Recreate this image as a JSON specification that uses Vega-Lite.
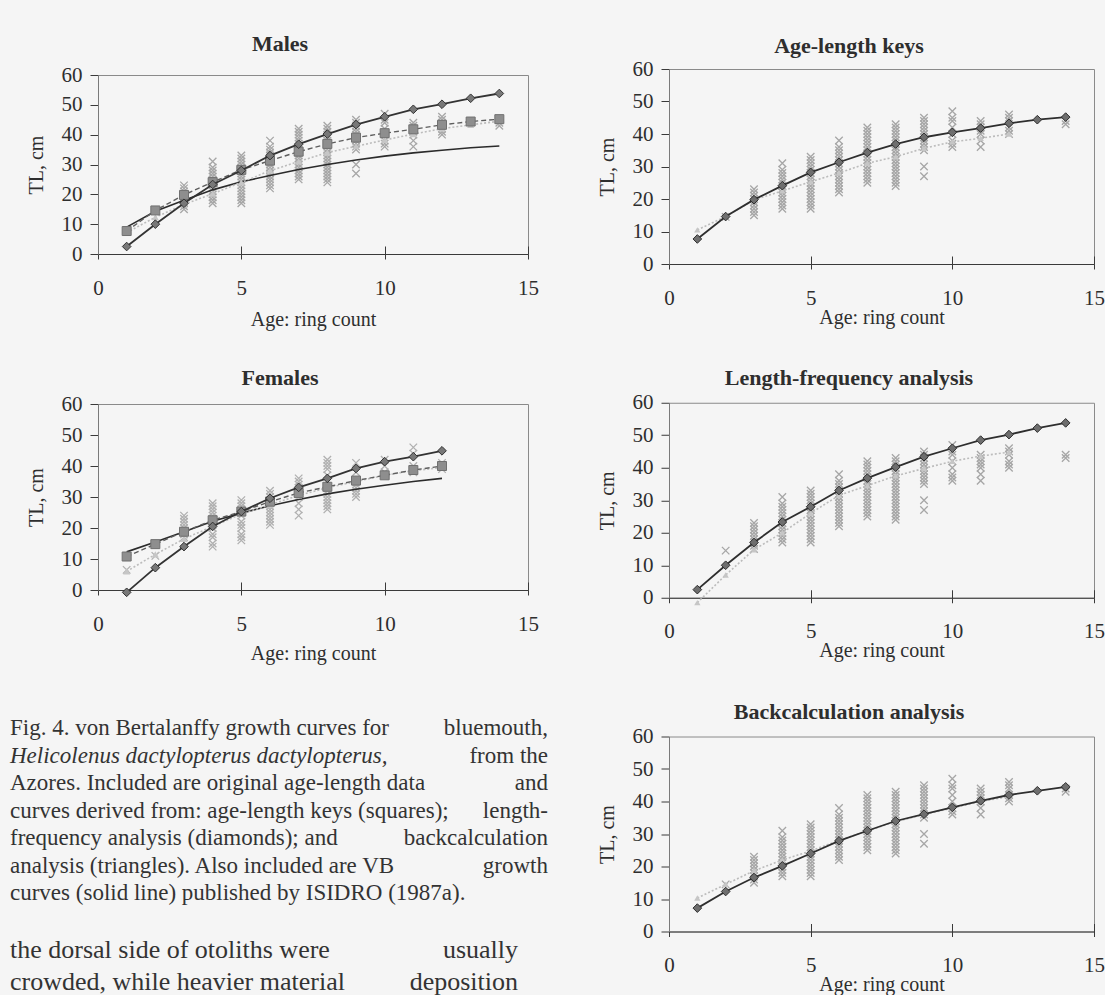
{
"$schema": "https://vega.github.io/schema/vega-lite/v6.json",
"padding": {"left": 10, "top": 32, "right": 0, "bottom": 0},
"background": "#f5f5f5",
"spacing": 48,
"datasets": {
"obsM": [
{"age":2,"tl":14.5},
{"age":3,"tl":15},{"age":3,"tl":16},{"age":3,"tl":17},{"age":3,"tl":18},{"age":3,"tl":19},{"age":3,"tl":20},{"age":3,"tl":21},{"age":3,"tl":22},{"age":3,"tl":23},
{"age":4,"tl":17},{"age":4,"tl":18},{"age":4,"tl":19},{"age":4,"tl":20},{"age":4,"tl":21},{"age":4,"tl":22},{"age":4,"tl":23},{"age":4,"tl":24},{"age":4,"tl":25},{"age":4,"tl":26},{"age":4,"tl":27},{"age":4,"tl":28},{"age":4,"tl":29},{"age":4,"tl":31},
{"age":5,"tl":17},{"age":5,"tl":18},{"age":5,"tl":19},{"age":5,"tl":20},{"age":5,"tl":21},{"age":5,"tl":22},{"age":5,"tl":23},{"age":5,"tl":24},{"age":5,"tl":25},{"age":5,"tl":26},{"age":5,"tl":27},{"age":5,"tl":28},{"age":5,"tl":29},{"age":5,"tl":30},{"age":5,"tl":31},{"age":5,"tl":32},{"age":5,"tl":33},
{"age":6,"tl":22},{"age":6,"tl":23},{"age":6,"tl":24},{"age":6,"tl":25},{"age":6,"tl":26},{"age":6,"tl":27},{"age":6,"tl":28},{"age":6,"tl":29},{"age":6,"tl":30},{"age":6,"tl":31},{"age":6,"tl":32},{"age":6,"tl":33},{"age":6,"tl":34},{"age":6,"tl":35},{"age":6,"tl":36},{"age":6,"tl":38},
{"age":7,"tl":25},{"age":7,"tl":26},{"age":7,"tl":27},{"age":7,"tl":28},{"age":7,"tl":29},{"age":7,"tl":30},{"age":7,"tl":31},{"age":7,"tl":32},{"age":7,"tl":33},{"age":7,"tl":34},{"age":7,"tl":35},{"age":7,"tl":36},{"age":7,"tl":37},{"age":7,"tl":38},{"age":7,"tl":39},{"age":7,"tl":40},{"age":7,"tl":41},{"age":7,"tl":42},
{"age":8,"tl":24},{"age":8,"tl":25},{"age":8,"tl":26},{"age":8,"tl":27},{"age":8,"tl":28},{"age":8,"tl":29},{"age":8,"tl":30},{"age":8,"tl":31},{"age":8,"tl":32},{"age":8,"tl":33},{"age":8,"tl":34},{"age":8,"tl":35},{"age":8,"tl":36},{"age":8,"tl":37},{"age":8,"tl":38},{"age":8,"tl":39},{"age":8,"tl":40},{"age":8,"tl":41},{"age":8,"tl":42},{"age":8,"tl":43},
{"age":9,"tl":27},{"age":9,"tl":30},{"age":9,"tl":35},{"age":9,"tl":36},{"age":9,"tl":37},{"age":9,"tl":38},{"age":9,"tl":39},{"age":9,"tl":40},{"age":9,"tl":41},{"age":9,"tl":42},{"age":9,"tl":43},{"age":9,"tl":44},{"age":9,"tl":45},
{"age":10,"tl":36},{"age":10,"tl":37},{"age":10,"tl":38},{"age":10,"tl":40},{"age":10,"tl":42},{"age":10,"tl":44},{"age":10,"tl":45},{"age":10,"tl":47},
{"age":11,"tl":36},{"age":11,"tl":38},{"age":11,"tl":40},{"age":11,"tl":41},{"age":11,"tl":42},{"age":11,"tl":43},{"age":11,"tl":44},
{"age":12,"tl":40},{"age":12,"tl":41},{"age":12,"tl":42},{"age":12,"tl":44},{"age":12,"tl":45},{"age":12,"tl":46},
{"age":14,"tl":43},{"age":14,"tl":44}
],
"obsF": [
{"age":1,"tl":6.5},
{"age":2,"tl":11},
{"age":3,"tl":17},{"age":3,"tl":18},{"age":3,"tl":19},{"age":3,"tl":20},{"age":3,"tl":21},{"age":3,"tl":22},{"age":3,"tl":23},{"age":3,"tl":24},
{"age":4,"tl":14},{"age":4,"tl":15},{"age":4,"tl":17},{"age":4,"tl":18},{"age":4,"tl":20},{"age":4,"tl":21},{"age":4,"tl":22},{"age":4,"tl":23},{"age":4,"tl":24},{"age":4,"tl":25},{"age":4,"tl":26},{"age":4,"tl":27},{"age":4,"tl":28},
{"age":5,"tl":16},{"age":5,"tl":17},{"age":5,"tl":18},{"age":5,"tl":20},{"age":5,"tl":21},{"age":5,"tl":22},{"age":5,"tl":24},{"age":5,"tl":25},{"age":5,"tl":26},{"age":5,"tl":27},{"age":5,"tl":28},{"age":5,"tl":29},
{"age":6,"tl":21},{"age":6,"tl":22},{"age":6,"tl":23},{"age":6,"tl":24},{"age":6,"tl":25},{"age":6,"tl":26},{"age":6,"tl":27},{"age":6,"tl":28},{"age":6,"tl":29},{"age":6,"tl":30},{"age":6,"tl":31},{"age":6,"tl":32},
{"age":7,"tl":24},{"age":7,"tl":26},{"age":7,"tl":28},{"age":7,"tl":30},{"age":7,"tl":31},{"age":7,"tl":32},{"age":7,"tl":33},{"age":7,"tl":34},{"age":7,"tl":35},{"age":7,"tl":36},
{"age":8,"tl":26},{"age":8,"tl":27},{"age":8,"tl":28},{"age":8,"tl":29},{"age":8,"tl":30},{"age":8,"tl":31},{"age":8,"tl":32},{"age":8,"tl":33},{"age":8,"tl":35},{"age":8,"tl":37},{"age":8,"tl":39},{"age":8,"tl":40},{"age":8,"tl":41},{"age":8,"tl":42},
{"age":9,"tl":30},{"age":9,"tl":31},{"age":9,"tl":32},{"age":9,"tl":33},{"age":9,"tl":34},{"age":9,"tl":35},{"age":9,"tl":38},{"age":9,"tl":41},
{"age":10,"tl":37},{"age":10,"tl":38},{"age":10,"tl":40},{"age":10,"tl":42},
{"age":11,"tl":38},{"age":11,"tl":40},{"age":11,"tl":44},{"age":11,"tl":46},
{"age":12,"tl":39},{"age":12,"tl":41}
],
"curves": [
{"p":"M","s":"LF","age":1,"tl":2.5},{"p":"M","s":"LF","age":2,"tl":10},{"p":"M","s":"LF","age":3,"tl":17},{"p":"M","s":"LF","age":4,"tl":23.3},{"p":"M","s":"LF","age":5,"tl":28},{"p":"M","s":"LF","age":6,"tl":33},{"p":"M","s":"LF","age":7,"tl":36.8},{"p":"M","s":"LF","age":8,"tl":40.2},{"p":"M","s":"LF","age":9,"tl":43.4},{"p":"M","s":"LF","age":10,"tl":46},{"p":"M","s":"LF","age":11,"tl":48.5},{"p":"M","s":"LF","age":12,"tl":50.2},{"p":"M","s":"LF","age":13,"tl":52.2},{"p":"M","s":"LF","age":14,"tl":53.8},
{"p":"M","s":"ALK","age":1,"tl":7.7},{"p":"M","s":"ALK","age":2,"tl":14.6},{"p":"M","s":"ALK","age":3,"tl":19.8},{"p":"M","s":"ALK","age":4,"tl":24.1},{"p":"M","s":"ALK","age":5,"tl":28.2},{"p":"M","s":"ALK","age":6,"tl":31.3},{"p":"M","s":"ALK","age":7,"tl":34.3},{"p":"M","s":"ALK","age":8,"tl":36.9},{"p":"M","s":"ALK","age":9,"tl":39},{"p":"M","s":"ALK","age":10,"tl":40.5},{"p":"M","s":"ALK","age":11,"tl":41.8},{"p":"M","s":"ALK","age":12,"tl":43.3},{"p":"M","s":"ALK","age":13,"tl":44.4},{"p":"M","s":"ALK","age":14,"tl":45.2},
{"p":"M","s":"BC","age":1,"tl":7.2},{"p":"M","s":"BC","age":2,"tl":12.3},{"p":"M","s":"BC","age":3,"tl":16.6},{"p":"M","s":"BC","age":4,"tl":20.2},{"p":"M","s":"BC","age":5,"tl":24},{"p":"M","s":"BC","age":6,"tl":27.9},{"p":"M","s":"BC","age":7,"tl":31},{"p":"M","s":"BC","age":8,"tl":34},{"p":"M","s":"BC","age":9,"tl":36.1},{"p":"M","s":"BC","age":10,"tl":38.2},{"p":"M","s":"BC","age":11,"tl":40.2},{"p":"M","s":"BC","age":12,"tl":42},{"p":"M","s":"BC","age":13,"tl":43.3},{"p":"M","s":"BC","age":14,"tl":44.5},
{"p":"M","s":"ISI","age":1,"tl":9},{"p":"M","s":"ISI","age":2,"tl":14.3},{"p":"M","s":"ISI","age":3,"tl":18},{"p":"M","s":"ISI","age":4,"tl":21.5},{"p":"M","s":"ISI","age":5,"tl":24.2},{"p":"M","s":"ISI","age":6,"tl":26.3},{"p":"M","s":"ISI","age":7,"tl":28.3},{"p":"M","s":"ISI","age":8,"tl":30},{"p":"M","s":"ISI","age":9,"tl":31.5},{"p":"M","s":"ISI","age":10,"tl":32.8},{"p":"M","s":"ISI","age":11,"tl":33.9},{"p":"M","s":"ISI","age":12,"tl":34.8},{"p":"M","s":"ISI","age":13,"tl":35.6},{"p":"M","s":"ISI","age":14,"tl":36.2},
{"p":"F","s":"LF","age":1,"tl":-0.75},{"p":"F","s":"LF","age":2,"tl":7.2},{"p":"F","s":"LF","age":3,"tl":14},{"p":"F","s":"LF","age":4,"tl":20.5},{"p":"F","s":"LF","age":5,"tl":25.3},{"p":"F","s":"LF","age":6,"tl":29.6},{"p":"F","s":"LF","age":7,"tl":33.1},{"p":"F","s":"LF","age":8,"tl":36},{"p":"F","s":"LF","age":9,"tl":39.2},{"p":"F","s":"LF","age":10,"tl":41.4},{"p":"F","s":"LF","age":11,"tl":43},{"p":"F","s":"LF","age":12,"tl":44.9},
{"p":"F","s":"ALK","age":1,"tl":10.8},{"p":"F","s":"ALK","age":2,"tl":14.8},{"p":"F","s":"ALK","age":3,"tl":18.8},{"p":"F","s":"ALK","age":4,"tl":22.5},{"p":"F","s":"ALK","age":5,"tl":25.3},{"p":"F","s":"ALK","age":6,"tl":28.5},{"p":"F","s":"ALK","age":7,"tl":31.3},{"p":"F","s":"ALK","age":8,"tl":33.3},{"p":"F","s":"ALK","age":9,"tl":35.3},{"p":"F","s":"ALK","age":10,"tl":37},{"p":"F","s":"ALK","age":11,"tl":38.7},{"p":"F","s":"ALK","age":12,"tl":40},
{"p":"F","s":"BC","age":1,"tl":6},{"p":"F","s":"BC","age":2,"tl":11.5},{"p":"F","s":"BC","age":3,"tl":16.5},{"p":"F","s":"BC","age":4,"tl":20.5},{"p":"F","s":"BC","age":5,"tl":24.5},{"p":"F","s":"BC","age":6,"tl":27.5},{"p":"F","s":"BC","age":7,"tl":30.5},{"p":"F","s":"BC","age":8,"tl":33},{"p":"F","s":"BC","age":9,"tl":35},{"p":"F","s":"BC","age":10,"tl":37},{"p":"F","s":"BC","age":11,"tl":38.5},{"p":"F","s":"BC","age":12,"tl":39.5},
{"p":"F","s":"ISI","age":1,"tl":12.3},{"p":"F","s":"ISI","age":2,"tl":15.5},{"p":"F","s":"ISI","age":3,"tl":18.8},{"p":"F","s":"ISI","age":4,"tl":22.2},{"p":"F","s":"ISI","age":5,"tl":24.8},{"p":"F","s":"ISI","age":6,"tl":27.2},{"p":"F","s":"ISI","age":7,"tl":29.2},{"p":"F","s":"ISI","age":8,"tl":31},{"p":"F","s":"ISI","age":9,"tl":32.5},{"p":"F","s":"ISI","age":10,"tl":33.8},{"p":"F","s":"ISI","age":11,"tl":35},{"p":"F","s":"ISI","age":12,"tl":36},
{"p":"AL","s":"mean","age":1,"tl":10.5},{"p":"AL","s":"mean","age":2,"tl":14.6},{"p":"AL","s":"mean","age":3,"tl":19.7},{"p":"AL","s":"mean","age":4,"tl":22.5},{"p":"AL","s":"mean","age":5,"tl":25.3},{"p":"AL","s":"mean","age":6,"tl":28},{"p":"AL","s":"mean","age":7,"tl":31},{"p":"AL","s":"mean","age":8,"tl":33},{"p":"AL","s":"mean","age":9,"tl":35.6},{"p":"AL","s":"mean","age":10,"tl":37.6},{"p":"AL","s":"mean","age":11,"tl":38.7},{"p":"AL","s":"mean","age":12,"tl":40},
{"p":"LF","s":"mean","age":1,"tl":-1.5},{"p":"LF","s":"mean","age":2,"tl":7},{"p":"LF","s":"mean","age":3,"tl":14.8},{"p":"LF","s":"mean","age":4,"tl":20},{"p":"LF","s":"mean","age":5,"tl":26},{"p":"LF","s":"mean","age":6,"tl":31.5},{"p":"LF","s":"mean","age":7,"tl":34.5},{"p":"LF","s":"mean","age":8,"tl":37.5},{"p":"LF","s":"mean","age":9,"tl":39.8},{"p":"LF","s":"mean","age":10,"tl":42},{"p":"LF","s":"mean","age":11,"tl":43.6},{"p":"LF","s":"mean","age":12,"tl":44.8},
{"p":"BC","s":"mean","age":1,"tl":10.3},{"p":"BC","s":"mean","age":2,"tl":14.5},{"p":"BC","s":"mean","age":3,"tl":18.7},{"p":"BC","s":"mean","age":4,"tl":22},{"p":"BC","s":"mean","age":5,"tl":24.8},{"p":"BC","s":"mean","age":6,"tl":28},{"p":"BC","s":"mean","age":7,"tl":31},{"p":"BC","s":"mean","age":8,"tl":33.8},{"p":"BC","s":"mean","age":9,"tl":36},{"p":"BC","s":"mean","age":10,"tl":38},{"p":"BC","s":"mean","age":11,"tl":40},{"p":"BC","s":"mean","age":12,"tl":41.5}
],
"caption": [
{"line":0,"k":"L","t":"Fig. 4. von Bertalanffy growth curves for"},
{"line":0,"k":"R","t":"bluemouth,"},
{"line":1,"k":"I","t":"Helicolenus dactylopterus dactylopterus,"},
{"line":1,"k":"R","t":"from the"},
{"line":2,"k":"L","t":"Azores. Included are original age-length data"},
{"line":2,"k":"R","t":"and"},
{"line":3,"k":"L","t":"curves derived from: age-length keys (squares);"},
{"line":3,"k":"R","t":"length-"},
{"line":4,"k":"L","t":"frequency analysis (diamonds); and"},
{"line":4,"k":"R","t":"backcalculation"},
{"line":5,"k":"L","t":"analysis (triangles). Also included are VB"},
{"line":5,"k":"R","t":"growth"},
{"line":6,"k":"L","t":"curves (solid line) published by ISIDRO (1987a)."}
],
"body": [
{"line":0,"k":"L","t":"the dorsal side of otoliths were"},
{"line":0,"k":"R","t":"usually"},
{"line":1,"k":"L","t":"crowded, while heavier material"},
{"line":1,"k":"R","t":"deposition"}
]
},
"hconcat": [
{"spacing": -38, "vconcat": [
  {"width": 430, "height": 1, "view": {"stroke": null}, "data": {"values": []}, "mark": "point"},
  {"spacing": 36, "vconcat": [
    {
      "width": 430, "height": 179,
      "title": {"text": "Males", "dx": -33, "offset": 8},
      "encoding": {
        "x": {"field": "age", "type": "quantitative", "scale": {"domain": [0, 15], "nice": false, "zero": false},
              "axis": {"values": [0, 5, 10, 15], "title": "Age: ring count", "titleY": 65, "gridDash": [0, 171, 8, 1000]}},
        "y": {"field": "tl", "type": "quantitative", "scale": {"domain": [0, 60], "nice": false},
              "axis": {"values": [0, 10, 20, 30, 40, 50, 60], "title": "TL, cm"}}
      },
      "layer": [
        {"data": {"name": "obsM"}, "mark": {"type": "point", "shape": "M-1,-1L1,1M-1,1L1,-1", "size": 56, "color": "#a6a6a6", "strokeWidth": 1.3, "opacity": 1}},
        {"data": {"name": "curves"}, "transform": [{"filter": "datum.p == 'M' && datum.s == 'ISI'"}], "mark": {"type": "line", "color": "#2b2b2b", "strokeWidth": 1.6}},
        {"data": {"name": "curves"}, "transform": [{"filter": "datum.p == 'M' && datum.s == 'BC'"}], "mark": {"type": "line", "color": "#bcbcbc", "strokeWidth": 1.6, "strokeDash": [2, 2], "point": {"shape": "triangle-up", "filled": true, "fill": "#c6c6c6", "size": 50, "opacity": 1}}},
        {"data": {"name": "curves"}, "transform": [{"filter": "datum.p == 'M' && datum.s == 'ALK'"}], "mark": {"type": "line", "color": "#5e5e5e", "strokeWidth": 1.4, "strokeDash": [5, 3], "point": {"shape": "square", "filled": true, "fill": "#8e8e8e", "stroke": "#707070", "strokeWidth": 1, "size": 81, "opacity": 1}}},
        {"data": {"name": "curves"}, "transform": [{"filter": "datum.p == 'M' && datum.s == 'LF'"}], "mark": {"type": "line", "color": "#333333", "strokeWidth": 1.8, "point": {"shape": "diamond", "filled": true, "fill": "#787878", "stroke": "#333333", "strokeWidth": 1, "size": 75, "opacity": 1}}}
      ]
    },
    {
      "width": 430, "height": 186,
      "title": {"text": "Females", "dx": -33, "offset": 3},
      "encoding": {
        "x": {"field": "age", "type": "quantitative", "scale": {"domain": [0, 15], "nice": false, "zero": false},
              "axis": {"values": [0, 5, 10, 15], "title": "Age: ring count", "titleY": 63, "gridDash": [0, 178, 8, 1000]}},
        "y": {"field": "tl", "type": "quantitative", "scale": {"domain": [0, 60], "nice": false},
              "axis": {"values": [0, 10, 20, 30, 40, 50, 60], "title": "TL, cm"}}
      },
      "layer": [
        {"data": {"name": "obsF"}, "mark": {"type": "point", "shape": "M-1,-1L1,1M-1,1L1,-1", "size": 56, "color": "#b0b0b0", "strokeWidth": 1.3, "opacity": 1}},
        {"data": {"name": "curves"}, "transform": [{"filter": "datum.p == 'F' && datum.s == 'ISI'"}], "mark": {"type": "line", "color": "#2b2b2b", "strokeWidth": 1.6}},
        {"data": {"name": "curves"}, "transform": [{"filter": "datum.p == 'F' && datum.s == 'BC'"}], "mark": {"type": "line", "color": "#bcbcbc", "strokeWidth": 1.6, "strokeDash": [2, 2], "point": {"shape": "triangle-up", "filled": true, "fill": "#c6c6c6", "size": 50, "opacity": 1}}},
        {"data": {"name": "curves"}, "transform": [{"filter": "datum.p == 'F' && datum.s == 'ALK'"}], "mark": {"type": "line", "color": "#5e5e5e", "strokeWidth": 1.4, "strokeDash": [5, 3], "point": {"shape": "square", "filled": true, "fill": "#8e8e8e", "stroke": "#707070", "strokeWidth": 1, "size": 81, "opacity": 1}}},
        {"data": {"name": "curves"}, "transform": [{"filter": "datum.p == 'F' && datum.s == 'LF'"}], "mark": {"type": "line", "color": "#333333", "strokeWidth": 1.8, "point": {"shape": "diamond", "filled": true, "fill": "#787878", "stroke": "#333333", "strokeWidth": 1, "size": 75, "opacity": 1}}}
      ]
    },
    {"spacing": 25, "vconcat": [
      {
        "width": 430, "height": 165, "view": {"stroke": null},
        "data": {"name": "caption"},
        "encoding": {"y": {"field": "line", "type": "quantitative", "scale": {"domain": [0, 6], "reverse": true}, "axis": null}},
        "layer": [
          {"transform": [{"filter": "datum.k == 'L'"}], "mark": {"type": "text", "align": "left", "baseline": "middle", "dx": -88, "dy": 28, "font": "Liberation Serif", "fontSize": 23, "color": "#333333"},
           "encoding": {"x": {"datum": 0, "type": "quantitative", "scale": {"domain": [0, 1]}, "axis": null}, "text": {"field": "t"}}},
          {"transform": [{"filter": "datum.k == 'I'"}], "mark": {"type": "text", "align": "left", "baseline": "middle", "dx": -88, "dy": 28, "font": "Liberation Serif", "fontSize": 23, "fontStyle": "italic", "color": "#333333"},
           "encoding": {"x": {"datum": 0, "type": "quantitative", "scale": {"domain": [0, 1]}, "axis": null}, "text": {"field": "t"}}},
          {"transform": [{"filter": "datum.k == 'R'"}], "mark": {"type": "text", "align": "right", "baseline": "middle", "dx": 20, "dy": 28, "font": "Liberation Serif", "fontSize": 23, "color": "#333333"},
           "encoding": {"x": {"datum": 1, "type": "quantitative", "scale": {"domain": [0, 1]}, "axis": null}, "text": {"field": "t"}}}
        ]
      },
      {
        "width": 430, "height": 32, "view": {"stroke": null},
        "data": {"name": "body"},
        "encoding": {"y": {"field": "line", "type": "quantitative", "scale": {"domain": [0, 1], "reverse": true}, "axis": null}},
        "layer": [
          {"transform": [{"filter": "datum.k == 'L'"}], "mark": {"type": "text", "align": "left", "baseline": "middle", "dx": -88, "dy": 20, "font": "Liberation Serif", "fontSize": 26, "color": "#333333"},
           "encoding": {"x": {"datum": 0, "type": "quantitative", "scale": {"domain": [0, 1]}, "axis": null}, "text": {"field": "t"}}},
          {"transform": [{"filter": "datum.k == 'R'"}], "mark": {"type": "text", "align": "right", "baseline": "middle", "dx": -10, "dy": 20, "font": "Liberation Serif", "fontSize": 26, "color": "#333333"},
           "encoding": {"x": {"datum": 1, "type": "quantitative", "scale": {"domain": [0, 1]}, "axis": null}, "text": {"field": "t"}}}
        ]
      }
    ]}
  ]}
]},
{"spacing": 37.75, "vconcat": [
  {
    "width": 425, "height": 195,
    "title": {"text": "Age-length keys", "dx": -32.5, "offset": 0},
    "encoding": {
      "x": {"field": "age", "type": "quantitative", "scale": {"domain": [0, 15], "nice": false, "zero": false},
            "axis": {"values": [0, 5, 10, 15], "title": "Age: ring count", "titleY": 53, "gridDash": [0, 187, 8, 1000]}},
      "y": {"field": "tl", "type": "quantitative", "scale": {"domain": [0, 60], "nice": false},
            "axis": {"values": [0, 10, 20, 30, 40, 50, 60], "title": "TL, cm"}}
    },
    "layer": [
      {"data": {"name": "obsM"}, "mark": {"type": "point", "shape": "M-1,-1L1,1M-1,1L1,-1", "size": 56, "color": "#a6a6a6", "strokeWidth": 1.3, "opacity": 1}},
      {"data": {"name": "curves"}, "transform": [{"filter": "datum.p == 'AL' && datum.s == 'mean'"}], "mark": {"type": "line", "color": "#bcbcbc", "strokeWidth": 1.6, "strokeDash": [2, 2], "point": {"shape": "triangle-up", "filled": true, "fill": "#c6c6c6", "size": 40, "opacity": 1}}},
      {"data": {"name": "curves"}, "transform": [{"filter": "datum.p == 'M' && datum.s == 'ALK'"}], "mark": {"type": "line", "color": "#2e2e2e", "strokeWidth": 1.8, "point": {"shape": "diamond", "filled": true, "fill": "#6e6e6e", "stroke": "#2e2e2e", "strokeWidth": 1, "size": 75, "opacity": 1}}}
    ]
  },
  {
    "width": 425, "height": 195,
    "title": {"text": "Length-frequency analysis", "dx": -32.5, "offset": 2},
    "encoding": {
      "x": {"field": "age", "type": "quantitative", "scale": {"domain": [0, 15], "nice": false, "zero": false},
            "axis": {"values": [0, 5, 10, 15], "title": "Age: ring count", "titleY": 53, "gridDash": [0, 187, 8, 1000]}},
      "y": {"field": "tl", "type": "quantitative", "scale": {"domain": [0, 60], "nice": false},
            "axis": {"values": [0, 10, 20, 30, 40, 50, 60], "title": "TL, cm"}}
    },
    "layer": [
      {"data": {"name": "obsM"}, "mark": {"type": "point", "shape": "M-1,-1L1,1M-1,1L1,-1", "size": 56, "color": "#a6a6a6", "strokeWidth": 1.3, "opacity": 1}},
      {"data": {"name": "curves"}, "transform": [{"filter": "datum.p == 'LF' && datum.s == 'mean'"}], "mark": {"type": "line", "color": "#bcbcbc", "strokeWidth": 1.6, "strokeDash": [2, 2], "point": {"shape": "triangle-up", "filled": true, "fill": "#c6c6c6", "size": 40, "opacity": 1}}},
      {"data": {"name": "curves"}, "transform": [{"filter": "datum.p == 'M' && datum.s == 'LF'"}], "mark": {"type": "line", "color": "#2e2e2e", "strokeWidth": 1.8, "point": {"shape": "diamond", "filled": true, "fill": "#6e6e6e", "stroke": "#2e2e2e", "strokeWidth": 1, "size": 75, "opacity": 1}}}
    ]
  },
  {
    "width": 425, "height": 195,
    "title": {"text": "Backcalculation analysis", "dx": -32.5, "offset": 2},
    "encoding": {
      "x": {"field": "age", "type": "quantitative", "scale": {"domain": [0, 15], "nice": false, "zero": false},
            "axis": {"values": [0, 5, 10, 15], "title": "Age: ring count", "titleY": 53, "gridDash": [0, 187, 8, 1000]}},
      "y": {"field": "tl", "type": "quantitative", "scale": {"domain": [0, 60], "nice": false},
            "axis": {"values": [0, 10, 20, 30, 40, 50, 60], "title": "TL, cm"}}
    },
    "layer": [
      {"data": {"name": "obsM"}, "mark": {"type": "point", "shape": "M-1,-1L1,1M-1,1L1,-1", "size": 56, "color": "#a6a6a6", "strokeWidth": 1.3, "opacity": 1}},
      {"data": {"name": "curves"}, "transform": [{"filter": "datum.p == 'BC' && datum.s == 'mean'"}], "mark": {"type": "line", "color": "#bcbcbc", "strokeWidth": 1.6, "strokeDash": [2, 2], "point": {"shape": "triangle-up", "filled": true, "fill": "#c6c6c6", "size": 40, "opacity": 1}}},
      {"data": {"name": "curves"}, "transform": [{"filter": "datum.p == 'M' && datum.s == 'BC'"}], "mark": {"type": "line", "color": "#2e2e2e", "strokeWidth": 1.8, "point": {"shape": "diamond", "filled": true, "fill": "#6e6e6e", "stroke": "#2e2e2e", "strokeWidth": 1, "size": 75, "opacity": 1}}}
    ]
  }
]}
],
"config": {
  "font": "Liberation Serif",
  "view": {"stroke": "#8a8a8a", "strokeWidth": 1},
  "title": {"font": "Liberation Serif", "fontSize": 22, "fontWeight": "bold", "color": "#2e2e2e", "anchor": "middle", "frame": "group", "baseline": "bottom"},
  "axis": {"labelFont": "Liberation Serif", "titleFont": "Liberation Serif", "labelFontSize": 21, "titleFontSize": 20, "labelColor": "#2e2e2e", "titleColor": "#2e2e2e", "titleFontWeight": "normal", "tickColor": "#3a3a3a", "tickWidth": 1, "domainWidth": 1},
  "axisX": {"tickSize": 5, "labelPadding": 29, "labelBaseline": "middle", "labelFlush": false, "labelAngle": 0, "titleBaseline": "middle", "grid": true, "gridColor": "#3a3a3a", "gridWidth": 1, "gridOpacity": 1, "domainColor": "#3a3a3a"},
  "axisY": {"tickSize": 8, "labelPadding": 8, "titleX": -62, "titleBaseline": "middle", "titleAngle": -90, "grid": false, "domainColor": "#7a7a7a"}
}
}
